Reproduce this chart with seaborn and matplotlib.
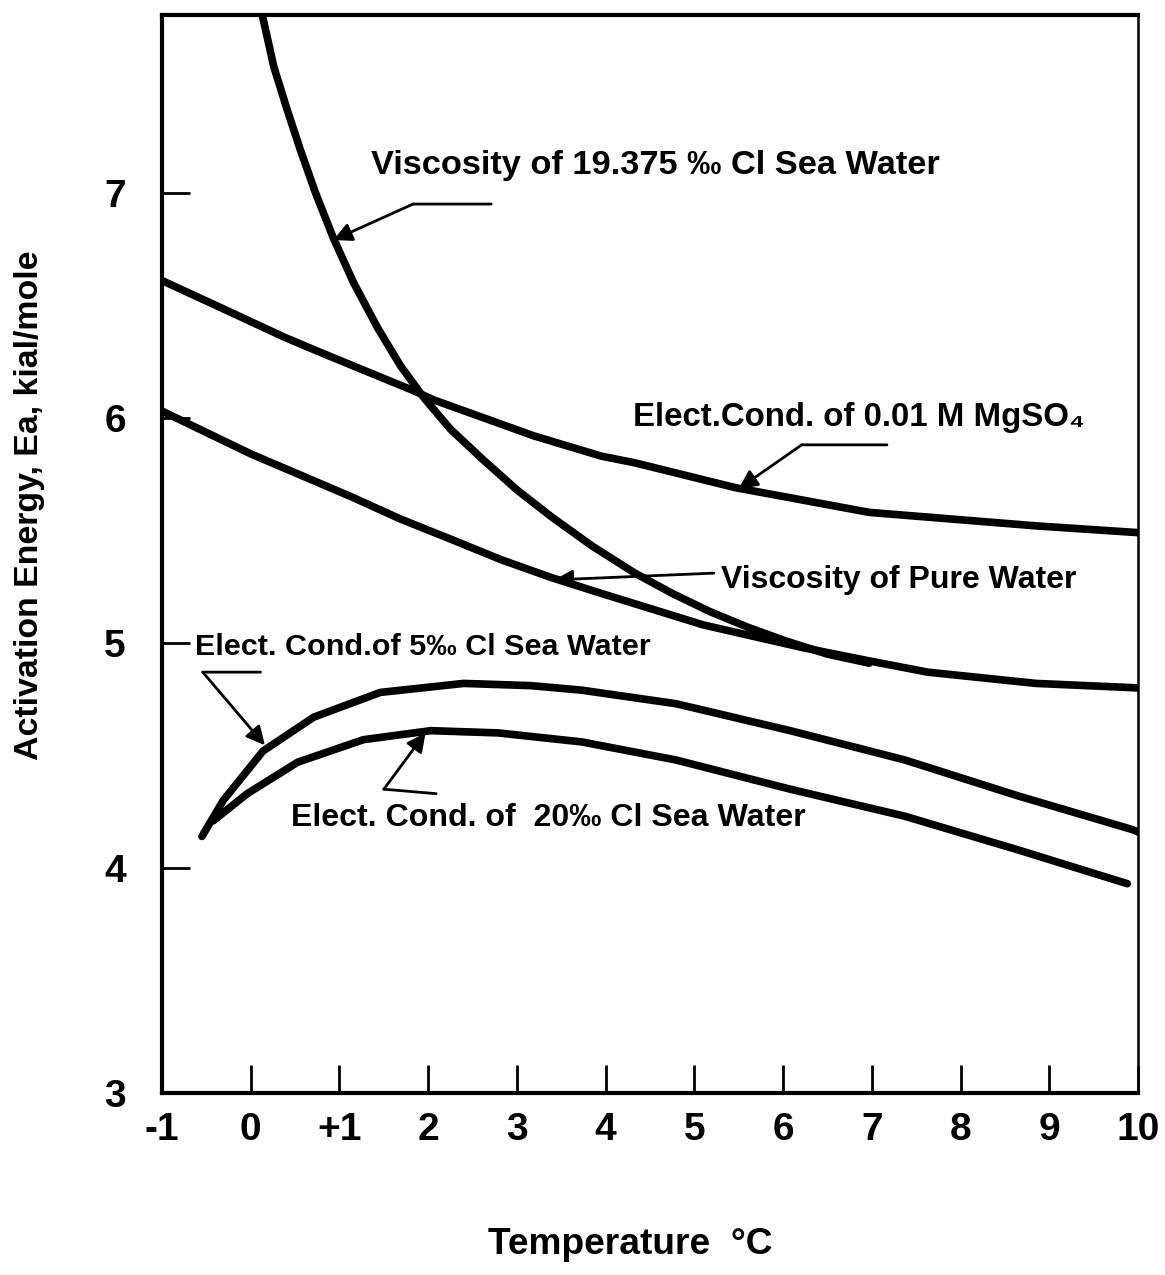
import matplotlib
matplotlib.use("Agg")
import matplotlib.pyplot as plt
import seaborn as sns
import pandas as pd

# ---- data ----
visc_sea_T = [0.13, 0.26, 0.41, 0.56, 0.73, 0.93, 1.16, 1.43, 1.69, 1.95, 2.25, 2.63, 3.00, 3.39, 3.85, 4.33, 4.75, 5.17, 5.60, 6.02, 6.50, 6.97]
visc_sea_E = [7.79, 7.56, 7.37, 7.19, 7.00, 6.80, 6.60, 6.40, 6.23, 6.09, 5.95, 5.81, 5.68, 5.56, 5.43, 5.31, 5.22, 5.14, 5.07, 5.01, 4.95, 4.91]

mgso4_T = [-1.0, -0.34, 0.37, 0.79, 1.84, 2.06, 3.19, 3.95, 4.33, 5.46, 6.97, 8.85, 10.0]
mgso4_E = [6.61, 6.49, 6.36, 6.29, 6.12, 6.08, 5.92, 5.83, 5.80, 5.69, 5.58, 5.52, 5.49]

pure_T = [-1.0, 0.0, 1.13, 1.69, 2.26, 2.82, 3.39, 3.95, 5.10, 6.21, 6.97, 7.63, 8.85, 10.0]
pure_E = [6.03, 5.84, 5.65, 5.55, 5.46, 5.37, 5.29, 5.22, 5.08, 4.98, 4.92, 4.87, 4.82, 4.80]

ec5_T = [-0.55, -0.31, 0.14, 0.71, 1.46, 2.40, 3.16, 3.73, 4.79, 6.08, 7.37, 8.65, 9.94, 10.0]
ec5_E = [4.14, 4.30, 4.52, 4.67, 4.78, 4.82, 4.81, 4.79, 4.73, 4.61, 4.48, 4.32, 4.17, 4.16]

ec20_T = [-0.42, -0.04, 0.53, 1.27, 2.03, 2.79, 3.73, 4.79, 6.08, 7.37, 8.65, 9.88]
ec20_E = [4.21, 4.33, 4.47, 4.57, 4.61, 4.60, 4.56, 4.48, 4.35, 4.23, 4.08, 3.93]

x_ticks = [-1, 0, 1, 2, 3, 4, 5, 6, 7, 8, 9, 10]
x_tick_labels = ["-1", "0", "+1", "2", "3", "4", "5", "6", "7", "8", "9", "10"]
y_ticks = [3, 4, 5, 6, 7]
y_tick_labels = ["3", "4", "5", "6", "7"]

# ---- style ----
sns.set_style("ticks")
FONT = ["Liberation Sans Narrow", "Liberation Sans", "DejaVu Sans"]
plt.rcParams["font.family"] = FONT
plt.rcParams["font.weight"] = "bold"
plt.rcParams["text.color"] = "black"

fig = plt.figure(figsize=(11.65, 12.75), dpi=100)
ax = fig.add_axes([162 / 1165, 1 - 1093 / 1275, (1138 - 162) / 1165, (1093 - 15) / 1275])

series = [
    (visc_sea_T, visc_sea_E),
    (mgso4_T, mgso4_E),
    (pure_T, pure_E),
    (ec5_T, ec5_E),
    (ec20_T, ec20_E),
]
for T, E in series:
    df = pd.DataFrame({"T": T, "E": E})
    sns.lineplot(data=df, x="T", y="E", ax=ax, color="black", lw=5.5,
                 sort=False, estimator=None, solid_capstyle="round",
                 solid_joinstyle="round")

ax.set_xlim(-1, 10)
ax.set_ylim(3, 7.79)
ax.set_xticks(x_ticks)
ax.set_xticklabels(x_tick_labels)
ax.set_yticks(y_ticks)
ax.set_yticklabels(y_tick_labels)
ax.tick_params(axis="both", direction="in", length=20, width=2, labelsize=28, colors="black")
ax.tick_params(axis="x", pad=14)
ax.tick_params(axis="y", pad=26)
for lab in ax.get_xticklabels() + ax.get_yticklabels():
    lab.set_fontweight("bold")
for s in ["left", "bottom", "top"]:
    ax.spines[s].set_linewidth(3)
    ax.spines[s].set_color("black")
ax.spines["right"].set_linewidth(1.8)
ax.spines["right"].set_color("black")
ax.set_xlabel("")
ax.set_ylabel("")

texts = []
ylab = fig.text(30 / 1165, 1 - 505 / 1275, "Activation Energy, Ea, kial/mole", rotation=90,
                ha="center", va="center", fontsize=24, fontweight="bold")
texts.append((ylab, 512, "h"))
xlab = fig.text(630 / 1165, 1 - 1245 / 1275, "Temperature  °C", ha="center", va="center",
                fontsize=26, fontweight="bold")
texts.append((xlab, 285, "w"))

TS = 24
seg = dict(arrowstyle="-", lw=2, color="black", shrinkA=0, shrinkB=0)
arr = dict(arrowstyle="-|>", lw=2, color="black", shrinkA=0, shrinkB=0, mutation_scale=28)


def leader(points):
    for (a, b) in zip(points[:-2], points[1:-1]):
        ax.annotate("", xy=b, xytext=a, arrowprops=seg)
    ax.annotate("", xy=points[-1], xytext=points[-2], arrowprops=arr)


t = ax.text(1.35, 7.12, "Viscosity of 19.375 ‰ Cl Sea Water", ha="left", va="center",
            fontsize=TS, fontweight="bold")
texts.append((t, 570, "w"))
leader([(2.71, 6.95), (1.83, 6.95), (0.93, 6.79)])

t = ax.text(4.31, 6.0, "Elect.Cond. of 0.01 M MgSO₄", ha="left", va="center",
            fontsize=TS, fontweight="bold")
texts.append((t, 453, "w"))
leader([(7.17, 5.88), (6.21, 5.88), (5.50, 5.685)])

t = ax.text(5.30, 5.28, "Viscosity of Pure Water", ha="left", va="center",
            fontsize=TS, fontweight="bold")
texts.append((t, 356, "w"))
leader([(5.22, 5.31), (3.42, 5.28)])

t = ax.text(-0.63, 4.98, "Elect. Cond.of 5‰ Cl Sea Water", ha="left", va="center",
            fontsize=TS, fontweight="bold")
texts.append((t, 455, "w"))
leader([(0.11, 4.87), (-0.54, 4.87), (0.16, 4.545)])

t = ax.text(0.45, 4.22, "Elect. Cond. of  20‰ Cl Sea Water", ha="left", va="center",
            fontsize=TS, fontweight="bold")
texts.append((t, 515, "w"))
leader([(2.09, 4.33), (1.50, 4.35), (1.97, 4.60)])

# fit text sizes to the widths seen in the reference
fig.canvas.draw()
r = fig.canvas.get_renderer()
for txt, target, dim in texts:
    bb = txt.get_window_extent(r)
    cur = bb.width if dim == "w" else bb.height
    if cur > 0:
        txt.set_fontsize(txt.get_fontsize() * target / cur)

fig.savefig("out.png", dpi=100)
